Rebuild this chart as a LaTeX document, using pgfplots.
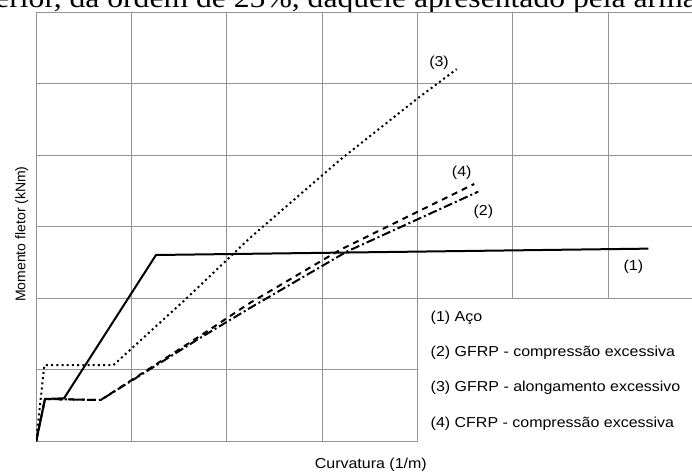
\documentclass[border=0pt]{standalone}
\usepackage{graphicx}
\usepackage{fontspec}
\setmainfont{Liberation Sans}
\newfontfamily\seriffont{Liberation Serif}
\usepackage{pgfplots}
\pgfplotsset{compat=1.18}
\newcommand{\lf}{\fontsize{14.4bp}{17bp}\selectfont}
\newcommand{\hs}[1]{\scalebox{1.11}[1]{#1}}
\begin{document}
\begin{tikzpicture}
\useasboundingbox (0,0) rectangle (692bp,473bp);
\clip (0,0) rectangle (692bp,473bp);
% cut-off body text above the figure
\node[anchor=base west, inner sep=0pt] at (-40bp,465.5bp)
  {\seriffont\fontsize{28bp}{30bp}\selectfont\scalebox{1.13}[1]{inferior, da ordem de 25\%, daquele apresentado pela armadura}};
\begin{axis}[
  at={(36.2bp,31.8bp)}, anchor=south west,
  scale only axis, width=667.1bp, height=429.2bp,
  xmin=0, xmax=7, ymin=0, ymax=6,
  xtick={0,...,7}, ytick={0,...,6},
  xticklabels={}, yticklabels={},
  major tick length=0pt,
  grid=major,
  grid style={black!42, line width=0.9bp},
  axis line style={black!42, line width=0.9bp},
  legend image code/.code={},
  legend cell align=left,
  legend style={draw=none, fill=none, font=\lf,
    at={(axis description cs:0.5914,0.3035)}, anchor=north west,
    inner sep=0pt, outer sep=0pt,
    nodes={inner sep=0pt, text height=10.5bp, text depth=3bp},
    row sep=21.7bp,
    /tikz/every odd column/.style={column sep=0pt}},
]
% (1) Aco - solid
\addplot[black, line width=2bp, mark=none] coordinates {
  (0,0) (0.092,0.59) (0.292,0.60) (1.257,2.603) (6.423,2.692)};
\addlegendentry{\hs{(1) Aço}}
% (2) GFRP - compressao excessiva - dash dot
\addplot[black, line width=2bp, mark=none,
  dash pattern=on 9bp off 3bp on 2bp off 3bp] coordinates {
  (0,0) (0.092,0.59) (0.677,0.576) (1.719,1.443) (2.243,1.862) (3.258,2.650) (4.639,3.489)};
\addlegendentry{\hs{(2) GFRP - compressão excessiva}}
% (3) GFRP - alongamento excessivo - dotted
\addplot[black, line width=2bp, mark=none,
  dash pattern=on 2bp off 3.2bp] coordinates {
  (0,0) (0.085,1.062) (0.809,1.062) (1.561,1.976) (2.243,2.842) (3.188,3.933) (3.996,4.786) (4.412,5.201)};
\addlegendentry{\hs{(3) GFRP - alongamento excessivo}}
% (4) CFRP - compressao excessiva - dashed
\addplot[black, line width=2bp, mark=none,
  dash pattern=on 6bp off 5bp] coordinates {
  (0,0) (0.092,0.59) (0.677,0.576) (1.719,1.471) (2.243,1.933) (3.188,2.674) (4.597,3.597)};
\addlegendentry{\hs{(4) CFRP - compressão excessiva}}
% legend box
\draw[black!42, line width=0.9bp, fill=white] (axis cs:4,-0.1) rectangle (axis cs:7.3,2);
% curve labels
\node[font=\lf, inner sep=0pt] at (axis cs:4.227,5.294) {\hs{(3)}};
\node[font=\lf, inner sep=0pt] at (axis cs:4.465,3.755) {\hs{(4)}};
\node[font=\lf, inner sep=0pt] at (axis cs:4.692,3.210) {\hs{(2)}};
\node[font=\lf, inner sep=0pt] at (axis cs:6.266,2.441) {\hs{(1)}};
\end{axis}
\node[font=\lf, inner sep=0pt] at (370.8bp,8bp) {\hs{Curvatura (1/m)}};
\node[font=\fontsize{14bp}{16bp}\selectfont, inner sep=0pt, rotate=90] at (21.7bp,239bp) {Momento fletor (kNm)};
\end{tikzpicture}
\end{document}
